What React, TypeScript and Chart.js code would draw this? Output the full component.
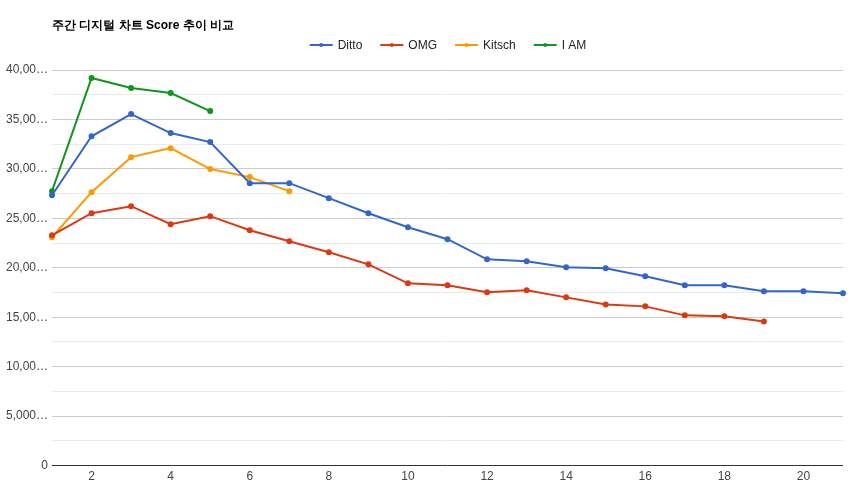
import React, { useEffect, useRef } from "react";
import { Chart, registerables } from "chart.js";

Chart.register(...registerables);

const weeks = Array.from({ length: 21 }, (_, i) => String(i + 1));
const ditto = [27340, 33300, 35540, 33620, 32710, 28560, 28560, 27040, 25520, 24100, 22890, 20860, 20660, 20050, 19950, 19140, 18230, 18230, 17620, 17620, 17420];
const omg = [23290, 25520, 26230, 24410, 25220, 23800, 22680, 21570, 20350, 18430, 18230, 17520, 17720, 17010, 16300, 16100, 15190, 15090, 14580, null, null];
const kitsch = [23090, 27650, 31190, 32100, 29980, 29170, 27750, null, null, null, null, null, null, null, null, null, null, null, null, null, null];
const iam = [27750, 39190, 38180, 37670, 35850, null, null, null, null, null, null, null, null, null, null, null, null, null, null, null, null];
const seriesNames = ["Ditto", "OMG", "Kitsch", "I AM"];
const seriesColors = ["#3366cc", "#dc3912", "#ff9900", "#109618"];
const yTickLabels: Record<number, string> = {
  0: "0",
  5000: "5,000…",
  10000: "10,00…",
  15000: "15,00…",
  20000: "20,00…",
  25000: "25,00…",
  30000: "30,00…",
  35000: "35,00…",
  40000: "40,00…",
};
const title = "주간 디지털 차트 Score 추이 비교";

const FONT = "Arial, 'Liberation Sans', sans-serif";

const headerPlugin = {
  id: "header",
  afterDraw(chart: any) {
    const ctx = chart.ctx;
    ctx.save();
    ctx.font = `bold 12px ${FONT}`;
    ctx.fillStyle = "#000";
    ctx.textBaseline = "middle";
    ctx.textAlign = "left";
    ctx.fillText(title, 52, 26);

    ctx.font = `12px ${FONT}`;
    const lineW = 23;
    const gapText = 5;
    const gapItem = 18;
    const widths = seriesNames.map((n) => lineW + gapText + ctx.measureText(n).width);
    const total = widths.reduce((a, b) => a + b, 0) + gapItem * (seriesNames.length - 1);
    let x = 448 - total / 2;
    const y = 45;
    seriesNames.forEach((n, i) => {
      ctx.strokeStyle = seriesColors[i];
      ctx.lineWidth = 2;
      ctx.beginPath();
      ctx.moveTo(x, y);
      ctx.lineTo(x + lineW, y);
      ctx.stroke();
      ctx.fillStyle = seriesColors[i];
      ctx.beginPath();
      ctx.arc(x + lineW / 2, y, 2, 0, Math.PI * 2);
      ctx.fill();
      ctx.fillStyle = "#222";
      ctx.fillText(n, x + lineW + gapText, y + 1);
      x += widths[i] + gapItem;
    });
    ctx.restore();
  },
};

export default function App() {
  const ref = useRef<HTMLCanvasElement | null>(null);
  useEffect(() => {
    if (!ref.current) return;
    const data = [ditto, omg, kitsch, iam];
    const chart = new Chart(ref.current, {
      type: "line",
      data: {
        labels: weeks,
        datasets: seriesNames.map((name, i) => ({
          label: name,
          data: data[i],
          borderColor: seriesColors[i],
          backgroundColor: seriesColors[i],
          borderWidth: 2,
          pointRadius: 2,
          pointHoverRadius: 3,
          tension: 0,
          spanGaps: false,
        })),
      },
      options: {
        animation: false,
        responsive: false,
        maintainAspectRatio: false,
        layout: { padding: { top: 70, left: 0, right: 7, bottom: 2 } },
        plugins: {
          legend: { display: false },
          title: { display: false },
          tooltip: { enabled: false },
        },
        scales: {
          x: {
            type: "category",
            offset: false,
            grid: { display: false, drawTicks: false },
            border: { display: false },
            ticks: {
              autoSkip: false,
              maxRotation: 0,
              color: "#444",
              font: { family: FONT, size: 12 },
              padding: 4,
              callback: (v: any, i: number) => (i % 2 === 1 ? weeks[i] : ""),
            },
          },
          y: {
            min: 0,
            max: 40000,
            afterFit: (s: any) => {
              s.width = 52;
            },
            border: { display: false },
            grid: {
              drawTicks: false,
              color: (c: any) => {
                const v = c.tick ? c.tick.value : 0;
                if (v === 0) return "#333";
                return v % 5000 === 0 ? "#cccccc" : "#ebebeb";
              },
              lineWidth: 1,
            },
            ticks: {
              stepSize: 2500,
              color: "#444",
              font: { family: FONT, size: 12 },
              padding: 4,
              callback: (v: any) => (yTickLabels[v as number] !== undefined ? yTickLabels[v as number] : ""),
            },
          },
        },
      },
      plugins: [headerPlugin],
    });
    return () => chart.destroy();
  }, []);
  return (
    <div style={{ position: "fixed", left: 0, top: 0, width: 850, height: 490, background: "#fff" }}>
      <canvas ref={ref} width={850} height={490} style={{ width: 850, height: 490 }} />
    </div>
  );
}
